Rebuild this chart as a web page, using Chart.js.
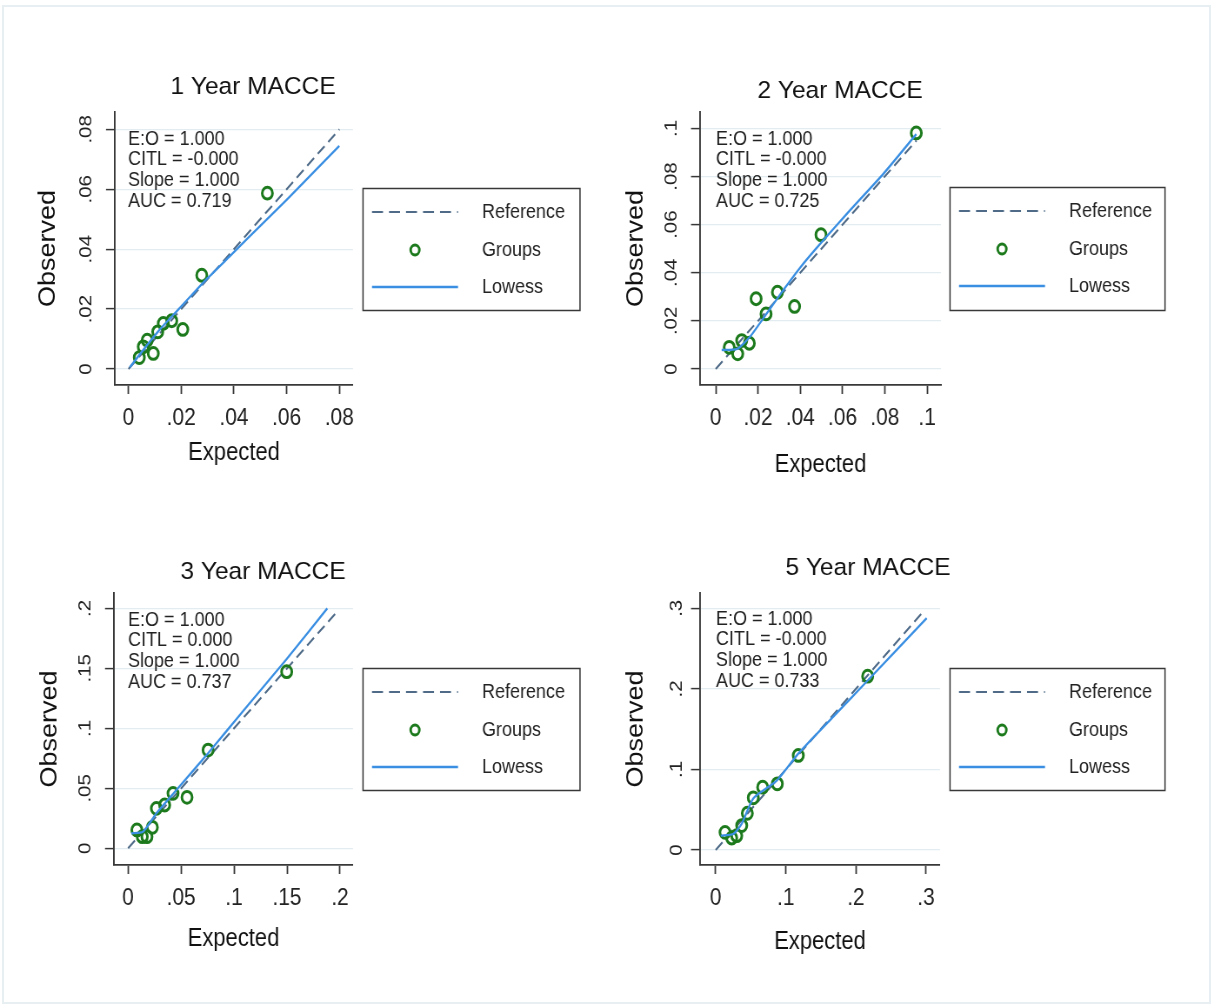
<!DOCTYPE html>
<html>
<head>
<meta charset="utf-8">
<script src="https://cdn.jsdelivr.net/npm/chart.js@4.4.1/dist/chart.umd.min.js"></script>
<style>
html,body{margin:0;padding:0;background:#fff;width:1214px;height:1006px;overflow:hidden;}
.frame{position:absolute;left:2px;top:5px;width:1209px;height:999px;border:2px solid #e8eff3;box-sizing:border-box;}
.panel{position:absolute;width:607px;height:503px;}
canvas{display:block;}
</style>
</head>
<body>
<div class="frame"></div>
<div class="panel" style="left:0;top:0"><canvas id="c1" width="698" height="503" style="width:607px;height:503px"></canvas></div>
<div class="panel" style="left:607px;top:0"><canvas id="c2" width="698" height="503" style="width:607px;height:503px"></canvas></div>
<div class="panel" style="left:0;top:503px"><canvas id="c3" width="698" height="503" style="width:607px;height:503px"></canvas></div>
<div class="panel" style="left:607px;top:503px"><canvas id="c4" width="698" height="503" style="width:607px;height:503px"></canvas></div>
<script>
// ---------------- DATA ----------------
const panelTitles = ['1 Year MACCE', '2 Year MACCE', '3 Year MACCE', '5 Year MACCE'];
const xAxisTitle = 'Expected';
const yAxisTitle = 'Observed';
const legendLabels = ['Reference', 'Groups', 'Lowess'];

// 1 year
const expected1 = [0.0041, 0.0056, 0.0071, 0.0094, 0.0111, 0.0132, 0.0164, 0.0206, 0.0278, 0.0527];
const observed1 = [0.0038, 0.0074, 0.0096, 0.0052, 0.0124, 0.0152, 0.0161, 0.0132, 0.0313, 0.0587];
const lowessX1 = [0.0005, 0.006, 0.012, 0.018, 0.024, 0.030, 0.040, 0.050, 0.060, 0.070, 0.080];
const lowessY1 = [0.0006, 0.0068, 0.0133, 0.0190, 0.0247, 0.0303, 0.0390, 0.0478, 0.0565, 0.0655, 0.0745];
const refEnd1 = [0, 0.08];
const ticks1 = [0, 0.02, 0.04, 0.06, 0.08];
const tickLabels1 = ['0', '.02', '.04', '.06', '.08'];
const stats1 = ['E:O = 1.000', 'CITL = -0.000', 'Slope = 1.000', 'AUC = 0.719'];

// 2 year
const expected2 = [0.0064, 0.0104, 0.0123, 0.0159, 0.0238, 0.0191, 0.0292, 0.0373, 0.0498, 0.0949];
const observed2 = [0.0090, 0.0063, 0.0118, 0.0107, 0.0229, 0.0292, 0.0319, 0.0260, 0.0558, 0.0981];
const lowessX2 = [0.0028, 0.0100, 0.0163, 0.0242, 0.0320, 0.0400, 0.0494, 0.0636, 0.0794, 0.0949];
const lowessY2 = [0.0079, 0.0083, 0.0135, 0.0232, 0.0328, 0.0422, 0.0520, 0.0660, 0.0812, 0.0976];
const refEnd2 = [0, 0.095];
const ticks2 = [0, 0.02, 0.04, 0.06, 0.08, 0.1];
const tickLabels2 = ['0', '.02', '.04', '.06', '.08', '.1'];
const stats2 = ['E:O = 1.000', 'CITL = -0.000', 'Slope = 1.000', 'AUC = 0.725'];

// 3 year
const expected3 = [0.0083, 0.0134, 0.0178, 0.0229, 0.0267, 0.0345, 0.0424, 0.0556, 0.0755, 0.1497];
const observed3 = [0.0153, 0.0097, 0.0097, 0.0175, 0.0333, 0.0361, 0.0458, 0.0425, 0.0819, 0.1472];
const lowessX3 = [0.003, 0.014, 0.0267, 0.0456, 0.0755, 0.1086, 0.1497, 0.188];
const lowessY3 = [0.0125, 0.0138, 0.0292, 0.0486, 0.0792, 0.1145, 0.1578, 0.2000];
const refEnd3 = [0, 0.198];
const ticks3 = [0, 0.05, 0.1, 0.15, 0.2];
const tickLabels3 = ['0', '.05', '.1', '.15', '.2'];
const stats3 = ['E:O = 1.000', 'CITL = 0.000', 'Slope = 1.000', 'AUC = 0.737'];

// 5 year
const expected5 = [0.0133, 0.0228, 0.0300, 0.0371, 0.0451, 0.0536, 0.0670, 0.0879, 0.1178, 0.2168];
const observed5 = [0.0219, 0.0149, 0.0178, 0.0303, 0.0456, 0.0648, 0.0780, 0.0822, 0.1174, 0.2158];
const lowessX5 = [0.0071, 0.025, 0.037, 0.0536, 0.087, 0.1178, 0.1678, 0.2168, 0.301];
const lowessY5 = [0.0178, 0.0199, 0.0324, 0.0640, 0.0860, 0.1196, 0.1655, 0.2104, 0.2877];
const refEnd5 = [0, 0.298];
const ticks5 = [0, 0.1, 0.2, 0.3];
const tickLabels5 = ['0', '.1', '.2', '.3'];
const stats5 = ['E:O = 1.000', 'CITL = -0.000', 'Slope = 1.000', 'AUC = 0.733'];

// ---------------- STYLE / LAYOUT ----------------
const FONT = '"Liberation Sans", Arial, Helvetica, sans-serif';
const COL_REF = '#4f6b88';
const COL_LOW = '#3b8fe2';
const COL_GRP = '#1c7a1c';
const COL_TXT = '#222222';
const COL_AXIS = '#383838';
const COL_GRID = '#e3edf1';
const CW = 698, CH = 503, DW = 607;
const S = DW / CW;            // horizontal squeeze of the rendered panels
const X_TITLE_SIZE = 25.3, Y_TITLE_SIZE = 27, X_TICK_SIZE = 24.1, Y_TICK_SIZE = 20.5;
const TEXT_SIZE = 20.7, TITLE_SIZE = 24.5;

const panels = [
  {id:'c1', ox:0, oy:0, area:[115,112,353,385], xr:[-0.00512,0.0852], yr:[-0.00535,0.0858],
   yTitleX:48, xTitleY:453, titlePos:[253,87], legend:[363,188,217,122], annot:[128,139],
   title:panelTitles[0], ex:expected1, ob:observed1, lx:lowessX1, ly:lowessY1, ref:refEnd1, tv:ticks1, tl:tickLabels1, st:stats1},
  {id:'c2', ox:607, oy:0, area:[700,112,941,385], xr:[-0.00744,0.1066], yr:[-0.00665,0.1068],
   yTitleX:636, xTitleY:465, titlePos:[840,91], legend:[950,187,215,123], annot:[716,139],
   title:panelTitles[1], ex:expected2, ob:observed2, lx:lowessX2, ly:lowessY2, ref:refEnd2, tv:ticks2, tl:tickLabels2, st:stats2},
  {id:'c3', ox:0, oy:503, area:[114,593,353,865], xr:[-0.0133,0.2123], yr:[-0.0139,0.2128],
   yTitleX:50, xTitleY:939, titlePos:[263,572], legend:[363,668,217,122], annot:[128,620],
   title:panelTitles[2], ex:expected3, ob:observed3, lx:lowessX3, ly:lowessY3, ref:refEnd3, tv:ticks3, tl:tickLabels3, st:stats3},
  {id:'c4', ox:607, oy:503, area:[700,593,940,865], xr:[-0.0224,0.32], yr:[-0.0186,0.319],
   yTitleX:636, xTitleY:942, titlePos:[868,568], legend:[950,668,215,122], annot:[716,619],
   title:panelTitles[3], ex:expected5, ob:observed5, lx:lowessX5, ly:lowessY5, ref:refEnd5, tv:ticks5, tl:tickLabels5, st:stats5}
];

const decorPlugin = {
  id: 'decor',
  afterDraw(chart, args, o) {
    const ctx = chart.ctx;
    ctx.save();
    // title (drawn un-squeezed)
    ctx.save();
    ctx.translate(o.titleX, o.titleY);
    ctx.scale(1 / S, 1);
    ctx.fillStyle = '#111111';
    ctx.font = TITLE_SIZE + 'px ' + FONT;
    ctx.textAlign = 'center';
    ctx.textBaseline = 'middle';
    ctx.fillText(o.title, 0, 0);
    ctx.restore();
    // statistics text
    ctx.fillStyle = COL_TXT;
    ctx.font = TEXT_SIZE + 'px ' + FONT;
    ctx.textAlign = 'left';
    ctx.textBaseline = 'middle';
    o.stats.forEach((s, i) => ctx.fillText(s, o.annotX, o.annotY + i * 20.6));
    // legend box
    const [lx, ly, lw, lh] = o.legend;
    ctx.strokeStyle = COL_AXIS;
    ctx.lineWidth = 1.5;
    ctx.strokeRect(lx, ly + 0.5, lw, lh);
    const ds = chart.data.datasets;
    const rows = [ly + 24, ly + 62, ly + 99];
    const k = 1 / S;
    ds.forEach((d, i) => {
      const y = rows[i];
      ctx.save();
      if (d.showLine) {
        ctx.strokeStyle = d.borderColor;
        ctx.lineWidth = d.borderWidth;
        ctx.setLineDash((d.borderDash || []).map(v => v * k));
        ctx.beginPath();
        ctx.moveTo(lx + 9 * k, y);
        ctx.lineTo(lx + 95 * k, y);
        ctx.stroke();
      } else {
        ctx.strokeStyle = d.borderColor;
        ctx.lineWidth = 2.9;
        ctx.beginPath();
        ctx.arc(lx + 52 * k, y, 5.0, 0, Math.PI * 2);
        ctx.stroke();
      }
      ctx.restore();
      ctx.fillStyle = COL_TXT;
      ctx.font = TEXT_SIZE + 'px ' + FONT;
      ctx.textAlign = 'left';
      ctx.textBaseline = 'middle';
      ctx.fillText(d.label, lx + 119 * k, y);
    });
    ctx.restore();
  }
};

function makePanel(p) {
  const cx = px => (px - p.ox) / S;
  const L = cx(p.area[0]), R = cx(p.area[2]);
  const T = p.area[1] - p.oy, B = p.area[3] - p.oy;
  const padLeft = cx(p.yTitleX) - Y_TITLE_SIZE * 1.2 / 2;
  const yWidth = L - padLeft;
  const xHeight = (p.xTitleY - p.oy) + X_TITLE_SIZE * 1.2 / 2 - B;
  const padBottom = CH - (B + xHeight);
  const lbl = v => p.tl[p.tv.findIndex(t => Math.abs(t - v) < 1e-9)];
  new Chart(document.getElementById(p.id), {
    type: 'scatter',
    data: {
      datasets: [
        {label: legendLabels[0], data: p.ref.map(v => ({x: v, y: v})), showLine: true, pointRadius: 0,
         borderColor: COL_REF, borderWidth: 2.1, borderDash: [11, 6], order: 2},
        {label: legendLabels[1], data: p.ex.map((v, i) => ({x: v, y: p.ob[i]})), showLine: false,
         pointRadius: 5.9, pointBorderWidth: 3.0, pointBorderColor: COL_GRP, borderColor: COL_GRP,
         pointBackgroundColor: 'rgba(0,0,0,0)', order: 1},
        {label: legendLabels[2], data: p.lx.map((v, i) => ({x: v, y: p.ly[i]})), showLine: true, pointRadius: 0,
         borderColor: COL_LOW, borderWidth: 2.3, tension: 0.2, order: 0}
      ]
    },
    options: {
      responsive: false, animation: false, events: [],
      layout: {padding: {left: padLeft, top: T, right: CW - R, bottom: padBottom}},
      plugins: {
        legend: {display: false}, tooltip: {enabled: false}, title: {display: false},
        decor: {title: p.title, titleX: cx(p.titlePos[0]), titleY: p.titlePos[1] - p.oy,
                stats: p.st, annotX: cx(p.annot[0]), annotY: p.annot[1] - p.oy,
                legend: [cx(p.legend[0]), p.legend[1] - p.oy, p.legend[2] / S, p.legend[3]]}
      },
      scales: {
        x: {
          type: 'linear', min: p.xr[0], max: p.xr[1],
          afterBuildTicks: s => { s.ticks = p.tv.map(v => ({value: v})); },
          afterFit: s => { s.height = xHeight; },
          ticks: {font: {family: FONT, size: X_TICK_SIZE}, color: COL_TXT, padding: 10, maxRotation: 0,
                  autoSkip: false, callback: lbl},
          grid: {drawOnChartArea: false, drawTicks: true, tickLength: 9, tickColor: COL_AXIS, tickWidth: 1.8},
          border: {display: true, color: COL_AXIS, width: 1.7},
          title: {display: true, text: xAxisTitle, font: {family: FONT, size: X_TITLE_SIZE}, color: '#111111', padding: 0}
        },
        y: {
          type: 'linear', min: p.yr[0], max: p.yr[1],
          afterBuildTicks: s => { s.ticks = p.tv.map(v => ({value: v})); },
          afterFit: s => { s.width = yWidth; },
          ticks: {font: {family: FONT, size: Y_TICK_SIZE}, color: COL_TXT, padding: 8, minRotation: 90, maxRotation: 90,
                  crossAlign: 'center', autoSkip: false, callback: lbl},
          grid: {color: COL_GRID, lineWidth: 1.2, drawTicks: true, tickLength: 9 / S, tickColor: COL_AXIS, tickWidth: 1.5},
          border: {display: true, color: COL_AXIS, width: 1.9},
          title: {display: true, text: yAxisTitle, font: {family: FONT, size: Y_TITLE_SIZE}, color: '#111111', padding: 0}
        }
      }
    },
    plugins: [decorPlugin]
  });
}
panels.forEach(makePanel);
</script>
</body>
</html>
